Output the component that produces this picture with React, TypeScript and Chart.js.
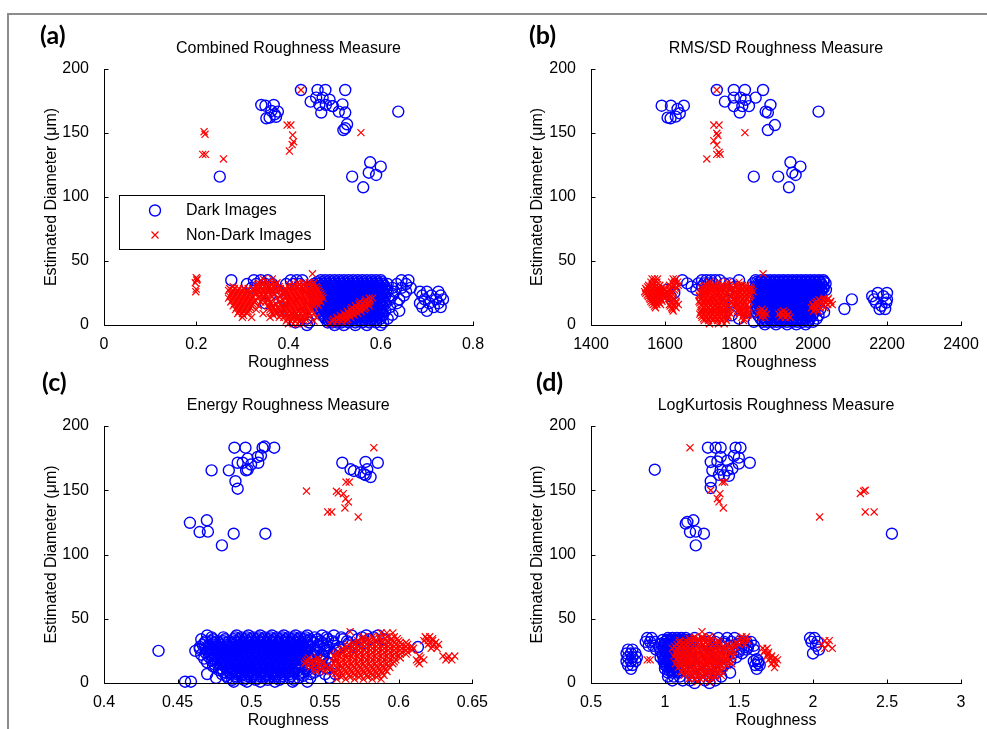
import React, { useEffect, useRef } from "react";
import { Chart, registerables } from "chart.js";

Chart.register(...registerables);

type Pt = [number, number];
type Row = [number, number[]]; // [diameter, roughness values at that diameter]

// ---------- tick values ----------
const diameterTicks = [0, 50, 100, 150, 200];
const combinedTicks = [0, 0.2, 0.4, 0.6, 0.8];
const rmsTicks = [1400, 1600, 1800, 2000, 2200, 2400];
const energyTicks = [0.4, 0.45, 0.5, 0.55, 0.6, 0.65];
const kurtosisTicks = [0.5, 1, 1.5, 2, 2.5, 3];

// ---------- (a) Combined roughness ----------
const combinedDarkHigh: Pt[] = [
  [0.427, 183.6], [0.463, 183.6], [0.48, 183.6], [0.523, 183.6], [0.448, 174.5], [0.46, 177.6],
  [0.474, 177.6], [0.489, 176], [0.467, 171.9], [0.481, 171.9], [0.496, 171], [0.471, 166],
  [0.517, 172.4], [0.509, 166.7], [0.523, 166], [0.527, 156.8], [0.523, 153.7], [0.519, 152.3],
  [0.495, 171], [0.638, 166.7],
  [0.341, 171.9], [0.35, 171.3], [0.368, 171.9], [0.377, 166.7], [0.37, 164.6], [0.359, 162],
  [0.352, 161.5], [0.373, 162.7], [0.363, 167.2],
  [0.251, 115.9],
  [0.577, 127.1], [0.6, 123.7], [0.574, 119], [0.59, 117.2], [0.538, 115.9], [0.562, 107.6],
];
const combinedNonDarkHigh: Pt[] = [
  [0.427, 183.6], [0.217, 151], [0.219, 149], [0.214, 133.3], [0.22, 133.3], [0.259, 129.7],
  [0.397, 156.2], [0.405, 156.2], [0.409, 148.4], [0.411, 143.2], [0.408, 141], [0.402, 135.9],
  [0.557, 150.3],
];
const combinedDarkLow: Row[] = [
  [35, [0.276, 0.325, 0.34, 0.355, 0.405, 0.418, 0.43, 0.47, 0.48, 0.49, 0.5, 0.51, 0.52, 0.53, 0.54, 0.55, 0.56, 0.57, 0.58, 0.59, 0.6, 0.645, 0.66]],
  [32, [0.31, 0.33, 0.35, 0.365, 0.395, 0.41, 0.425, 0.455, 0.465, 0.475, 0.485, 0.495, 0.505, 0.515, 0.525, 0.535, 0.545, 0.555, 0.565, 0.575, 0.585, 0.595, 0.605, 0.615, 0.635, 0.655]],
  [29, [0.32, 0.37, 0.44, 0.46, 0.47, 0.48, 0.49, 0.5, 0.51, 0.52, 0.53, 0.54, 0.55, 0.56, 0.57, 0.58, 0.59, 0.6, 0.61, 0.625, 0.645, 0.665]],
  [26, [0.38, 0.455, 0.465, 0.475, 0.485, 0.495, 0.505, 0.515, 0.525, 0.535, 0.545, 0.555, 0.565, 0.575, 0.585, 0.595, 0.605, 0.615, 0.63, 0.655, 0.685, 0.7, 0.725]],
  [23, [0.36, 0.46, 0.47, 0.48, 0.49, 0.5, 0.51, 0.52, 0.53, 0.54, 0.55, 0.56, 0.57, 0.58, 0.59, 0.6, 0.61, 0.625, 0.65, 0.69, 0.71, 0.73]],
  [20, [0.39, 0.465, 0.475, 0.485, 0.495, 0.505, 0.515, 0.525, 0.535, 0.545, 0.555, 0.565, 0.575, 0.585, 0.595, 0.605, 0.62, 0.64, 0.695, 0.72, 0.735]],
  [17, [0.35, 0.425, 0.46, 0.47, 0.48, 0.49, 0.5, 0.51, 0.52, 0.53, 0.54, 0.55, 0.56, 0.57, 0.58, 0.59, 0.6, 0.61, 0.635, 0.685, 0.705, 0.725]],
  [14, [0.38, 0.465, 0.475, 0.485, 0.495, 0.505, 0.515, 0.525, 0.535, 0.545, 0.555, 0.565, 0.575, 0.585, 0.595, 0.605, 0.62, 0.69, 0.715, 0.73]],
  [11, [0.4, 0.47, 0.48, 0.49, 0.5, 0.51, 0.52, 0.53, 0.54, 0.55, 0.56, 0.57, 0.58, 0.59, 0.6, 0.61, 0.64, 0.7]],
  [8, [0.43, 0.475, 0.485, 0.495, 0.505, 0.515, 0.525, 0.535, 0.545, 0.555, 0.565, 0.575, 0.585, 0.595, 0.605, 0.625]],
  [5, [0.44, 0.48, 0.49, 0.5, 0.51, 0.52, 0.53, 0.54, 0.55, 0.56, 0.57, 0.58, 0.59, 0.6, 0.615]],
  [2, [0.415, 0.445, 0.485, 0.495, 0.505, 0.515, 0.53, 0.545, 0.56, 0.575, 0.59, 0.605]],
  [0, [0.44, 0.5, 0.52, 0.545, 0.57, 0.6]],
];
const combinedDarkCore: Row[] = [
  [33.5, [0.4625, 0.4725, 0.4825, 0.4925, 0.5025, 0.5125, 0.5225, 0.5325, 0.5425, 0.5525, 0.5625, 0.5725, 0.5825, 0.5925, 0.6025]],
  [30.5, [0.4575, 0.4675, 0.4775, 0.4875, 0.4975, 0.5075, 0.5175, 0.5275, 0.5375, 0.5475, 0.5575, 0.5675, 0.5775, 0.5875, 0.5975, 0.6075]],
  [27.5, [0.4525, 0.4625, 0.4725, 0.4825, 0.4925, 0.5025, 0.5125, 0.5225, 0.5325, 0.5425, 0.5525, 0.5625, 0.5725, 0.5825, 0.5925, 0.6025, 0.6125]],
  [24.5, [0.4575, 0.4675, 0.4775, 0.4875, 0.4975, 0.5075, 0.5175, 0.5275, 0.5375, 0.5475, 0.5575, 0.5675, 0.5775, 0.5875, 0.5975, 0.6075]],
  [21.5, [0.4625, 0.4725, 0.4825, 0.4925, 0.5025, 0.5125, 0.5225, 0.5325, 0.5425, 0.5525, 0.5625, 0.5725, 0.5825, 0.5925, 0.6025]],
  [18.5, [0.4575, 0.4675, 0.4775, 0.4875, 0.4975, 0.5075, 0.5175, 0.5275, 0.5375, 0.5475, 0.5575, 0.5675, 0.5775, 0.5875, 0.5975, 0.6075]],
  [15.5, [0.4625, 0.4725, 0.4825, 0.4925, 0.5025, 0.5125, 0.5225, 0.5325, 0.5425, 0.5525, 0.5625, 0.5725, 0.5825, 0.5925, 0.6025]],
  [12.5, [0.4675, 0.4775, 0.4875, 0.4975, 0.5075, 0.5175, 0.5275, 0.5375, 0.5475, 0.5575, 0.5675, 0.5775, 0.5875, 0.5975]],
  [9.5, [0.4725, 0.4825, 0.4925, 0.5025, 0.5125, 0.5225, 0.5325, 0.5425, 0.5525, 0.5625, 0.5725, 0.5825, 0.5925, 0.6025]],
  [6.5, [0.4775, 0.4875, 0.4975, 0.5075, 0.5175, 0.5275, 0.5375, 0.5475, 0.5575, 0.5675, 0.5775, 0.5875, 0.5975]],
  [3.5, [0.4875, 0.4975, 0.5075, 0.5175, 0.5275, 0.5375, 0.5475, 0.5575, 0.5675, 0.5775, 0.5875]],
];
const combinedNonDarkLow: Row[] = [
  [40, [0.452]],
  [37, [0.2]], [35, [0.201]], [33, [0.198]], [26, [0.199]], [36, [0.202]], [28, [0.2]],
  [36, [0.345, 0.365]],
  [33, [0.335, 0.345, 0.355, 0.365, 0.375, 0.42, 0.435, 0.445, 0.455]],
  [30, [0.28, 0.33, 0.34, 0.35, 0.36, 0.37, 0.38, 0.4, 0.41, 0.42, 0.43, 0.44, 0.45, 0.46]],
  [27, [0.27, 0.28, 0.29, 0.3, 0.31, 0.325, 0.335, 0.345, 0.355, 0.365, 0.375, 0.385, 0.395, 0.405, 0.415, 0.425, 0.435, 0.445, 0.455, 0.465]],
  [24, [0.275, 0.285, 0.295, 0.305, 0.315, 0.33, 0.34, 0.35, 0.36, 0.37, 0.39, 0.4, 0.41, 0.42, 0.43, 0.44, 0.45, 0.46, 0.47]],
  [21, [0.27, 0.28, 0.29, 0.3, 0.31, 0.32, 0.335, 0.345, 0.355, 0.375, 0.395, 0.405, 0.415, 0.425, 0.435, 0.445, 0.455, 0.465, 0.475, 0.575, 0.582]],
  [18, [0.275, 0.285, 0.295, 0.305, 0.315, 0.325, 0.34, 0.35, 0.36, 0.38, 0.4, 0.41, 0.42, 0.43, 0.44, 0.45, 0.46, 0.47, 0.555, 0.565, 0.575]],
  [15, [0.28, 0.29, 0.3, 0.31, 0.32, 0.335, 0.355, 0.365, 0.385, 0.395, 0.405, 0.415, 0.425, 0.435, 0.445, 0.455, 0.465, 0.545, 0.555, 0.565, 0.575]],
  [12, [0.285, 0.295, 0.305, 0.315, 0.33, 0.36, 0.37, 0.38, 0.39, 0.4, 0.41, 0.42, 0.43, 0.44, 0.45, 0.535, 0.545, 0.555, 0.565]],
  [9, [0.29, 0.3, 0.31, 0.345, 0.365, 0.375, 0.385, 0.395, 0.405, 0.415, 0.425, 0.435, 0.445, 0.455, 0.52, 0.53, 0.54, 0.55]],
  [6, [0.3, 0.32, 0.36, 0.38, 0.39, 0.4, 0.41, 0.42, 0.43, 0.44, 0.46, 0.505, 0.515, 0.525, 0.535]],
  [3, [0.395, 0.405, 0.415, 0.425, 0.435, 0.455, 0.495, 0.505, 0.515, 0.525]],
  [1, [0.4, 0.41, 0.42, 0.43, 0.49, 0.5]],
];
const combinedNonDarkCore: Row[] = [
  [31.5, [0.3325, 0.3425, 0.3525, 0.3625, 0.3725, 0.4025, 0.4125, 0.4225, 0.4325, 0.4425, 0.4525]],
  [28.5, [0.2725, 0.2825, 0.2925, 0.3025, 0.3125, 0.3225, 0.3325, 0.3425, 0.3525, 0.3625, 0.3725, 0.3825, 0.3925, 0.4025, 0.4125, 0.4225, 0.4325, 0.4425, 0.4525, 0.4625]],
  [25.5, [0.2775, 0.2875, 0.2975, 0.3075, 0.3175, 0.3275, 0.3375, 0.3475, 0.3575, 0.3675, 0.3875, 0.3975, 0.4075, 0.4175, 0.4275, 0.4375, 0.4475, 0.4575, 0.4675]],
  [22.5, [0.2725, 0.2825, 0.2925, 0.3025, 0.3125, 0.3225, 0.3375, 0.3475, 0.3625, 0.3825, 0.3925, 0.4025, 0.4125, 0.4225, 0.4325, 0.4425, 0.4525, 0.4625, 0.4725]],
  [19.5, [0.2775, 0.2875, 0.2975, 0.3075, 0.3175, 0.3275, 0.3425, 0.3575, 0.3875, 0.3975, 0.4075, 0.4175, 0.4275, 0.4375, 0.4475, 0.4575, 0.4675, 0.5675, 0.5775]],
  [16.5, [0.2825, 0.2925, 0.3025, 0.3125, 0.3225, 0.3625, 0.3725, 0.3825, 0.3925, 0.4025, 0.4125, 0.4225, 0.4325, 0.4425, 0.4525, 0.4625, 0.5525, 0.5625, 0.5725]],
  [13.5, [0.2875, 0.2975, 0.3075, 0.3175, 0.3575, 0.3675, 0.3775, 0.3875, 0.3975, 0.4075, 0.4175, 0.4275, 0.4375, 0.4475, 0.5375, 0.5475, 0.5575, 0.5675]],
  [10.5, [0.2925, 0.3025, 0.3125, 0.3625, 0.3725, 0.3825, 0.3925, 0.4025, 0.4125, 0.4225, 0.4325, 0.4425, 0.5275, 0.5375, 0.5475, 0.5575]],
  [7.5, [0.3025, 0.3675, 0.3825, 0.3925, 0.4025, 0.4125, 0.4225, 0.4325, 0.4425, 0.5125, 0.5225, 0.5325, 0.5425]],
  [4.5, [0.3975, 0.4075, 0.4175, 0.4275, 0.4375, 0.4975, 0.5075, 0.5175, 0.5275]],
];

// ---------- (b) RMS/SD roughness ----------
const rmsDarkHigh: Pt[] = [
  [1740, 183.6], [1786, 183.6], [1816, 183.6], [1865, 183.6], [1762, 174.5], [1786, 177.6],
  [1804, 177.6], [1818, 176], [1786, 171], [1809, 171], [1827, 171], [1802, 166], [1845, 177.6],
  [1885, 171.9], [1872, 166.7], [1878, 166], [1897, 156.2], [1878, 152.3], [2015, 166.7],
  [1591, 171.3], [1616, 171.3], [1651, 171.3], [1640, 165.4], [1629, 162.8], [1615, 161.5],
  [1607, 162], [1634, 168.8],
  [1939, 127.1], [1966, 123.7], [1944, 119], [1953, 117.2], [1906, 115.9], [1935, 107.6], [1840, 115.9],
];
const rmsNonDarkHigh: Pt[] = [
  [1740, 183.6], [1732, 156.2], [1746, 156.2], [1740, 149.8], [1743, 148], [1732, 144],
  [1740, 140.6], [1746, 134.9], [1740, 133.3], [1749, 133.3], [1713, 129.7], [1816, 150.3],
];
const rmsDarkLow: Row[] = [
  [35, [1647, 1700, 1712, 1724, 1736, 1748, 1800, 1845, 1860, 1872, 1884, 1896, 1908, 1920, 1932, 1944, 1956, 1968, 1980, 1992, 2004, 2016, 2028]],
  [32.5, [1660, 1690, 1706, 1718, 1730, 1760, 1775, 1838, 1852, 1866, 1878, 1890, 1902, 1914, 1926, 1938, 1950, 1962, 1974, 1986, 1998, 2010, 2022, 2034]],
  [30, [1672, 1700, 1790, 1845, 1858, 1872, 1884, 1896, 1908, 1920, 1932, 1944, 1956, 1968, 1980, 1992, 2004, 2016, 2028]],
  [27.5, [1605, 1685, 1770, 1852, 1864, 1878, 1890, 1902, 1914, 1926, 1938, 1950, 1962, 1974, 1986, 1998, 2010, 2022, 2035]],
  [25, [1625, 1730, 1785, 1846, 1858, 1870, 1884, 1896, 1908, 1920, 1932, 1944, 1956, 1968, 1980, 1992, 2004, 2016, 2175, 2200]],
  [22.5, [1615, 1712, 1852, 1864, 1876, 1890, 1902, 1914, 1926, 1938, 1950, 1962, 1974, 1986, 1998, 2010, 2022, 2160, 2190]],
  [20, [1740, 1846, 1858, 1870, 1882, 1896, 1908, 1920, 1932, 1944, 1956, 1968, 1980, 1992, 2004, 2105, 2165, 2200]],
  [17.5, [1780, 1852, 1864, 1876, 1888, 1902, 1914, 1926, 1938, 1950, 1962, 1974, 1986, 1998, 2010, 2170, 2198]],
  [15, [1760, 1846, 1858, 1870, 1882, 1894, 1908, 1920, 1932, 1944, 1956, 1968, 1980, 1992, 2004, 2185]],
  [12.5, [1850, 1864, 1876, 1888, 1900, 1914, 1926, 1938, 1950, 1962, 1974, 1986, 1998, 2020, 2085, 2180, 2195]],
  [10, [1820, 1846, 1858, 1870, 1882, 1894, 1906, 1920, 1932, 1944, 1956, 1968, 1980, 1992, 2004, 2030]],
  [7.5, [1780, 1852, 1864, 1876, 1888, 1900, 1912, 1926, 1938, 1950, 1962, 1974, 1986, 1998, 2015]],
  [5, [1800, 1858, 1870, 1882, 1894, 1906, 1918, 1932, 1944, 1956, 1968, 1980, 1992, 2010]],
  [2.5, [1840, 1864, 1876, 1890, 1902, 1916, 1930, 1944, 1958, 1972, 1986, 2000]],
  [0.5, [1870, 1900, 1930, 1955, 1980]],
];
const rmsDarkCore: Row[] = [
  [33.8, [1849, 1861, 1873, 1885, 1897, 1909, 1921, 1933, 1945, 1957, 1969, 1981, 1993, 2005, 2017, 2029]],
  [31.3, [1855, 1867, 1879, 1891, 1903, 1915, 1927, 1939, 1951, 1963, 1975, 1987, 1999, 2011, 2023]],
  [28.8, [1849, 1861, 1873, 1885, 1897, 1909, 1921, 1933, 1945, 1957, 1969, 1981, 1993, 2005, 2017, 2029]],
  [26.3, [1855, 1867, 1879, 1891, 1903, 1915, 1927, 1939, 1951, 1963, 1975, 1987, 1999, 2011, 2023]],
  [23.8, [1849, 1861, 1873, 1885, 1897, 1909, 1921, 1933, 1945, 1957, 1969, 1981, 1993, 2005, 2017]],
  [21.3, [1855, 1867, 1879, 1891, 1903, 1915, 1927, 1939, 1951, 1963, 1975, 1987, 1999, 2011]],
  [18.8, [1849, 1861, 1873, 1885, 1897, 1909, 1921, 1933, 1945, 1957, 1969, 1981, 1993, 2005]],
  [16.3, [1855, 1867, 1879, 1891, 1903, 1915, 1927, 1939, 1951, 1963, 1975, 1987, 1999, 2011]],
  [13.8, [1849, 1861, 1873, 1885, 1897, 1909, 1921, 1933, 1945, 1957, 1969, 1981, 1993, 2005]],
  [11.3, [1855, 1867, 1879, 1891, 1903, 1915, 1927, 1939, 1951, 1963, 1975, 1987, 1999]],
  [8.8, [1861, 1873, 1885, 1897, 1909, 1921, 1933, 1945, 1957, 1969, 1981, 1993]],
  [6.3, [1867, 1879, 1891, 1903, 1915, 1927, 1939, 1951, 1963, 1975, 1987]],
  [3.8, [1873, 1885, 1897, 1909, 1921, 1933, 1945, 1957, 1969]],
];
const rmsNonDarkLow: Row[] = [
  [40, [1865]],
  [36, [1565, 1572, 1580, 1622, 1630]],
  [33.5, [1562, 1570, 1578, 1618, 1626, 1634, 1720, 1745, 1770, 1800]],
  [31, [1556, 1566, 1576, 1586, 1612, 1624, 1636, 1708, 1720, 1732, 1744, 1756, 1768, 1790, 1800, 1810, 1820]],
  [28.5, [1548, 1558, 1568, 1578, 1588, 1598, 1614, 1630, 1700, 1712, 1724, 1736, 1748, 1760, 1772, 1784, 1796, 1808, 1820, 1832]],
  [26, [1545, 1555, 1565, 1575, 1585, 1595, 1605, 1620, 1698, 1708, 1718, 1730, 1742, 1754, 1766, 1790, 1802, 1814, 1826, 1838]],
  [23.5, [1552, 1562, 1572, 1582, 1592, 1602, 1612, 1692, 1704, 1716, 1728, 1740, 1752, 1764, 1778, 1796, 1808, 1820, 1832]],
  [21, [1558, 1568, 1578, 1588, 1598, 1610, 1622, 1698, 1710, 1722, 1734, 1746, 1758, 1770, 1786, 1798, 1810, 1822, 2030, 2042]],
  [18.5, [1562, 1572, 1582, 1592, 1616, 1630, 1692, 1704, 1716, 1728, 1740, 1752, 1764, 1780, 1792, 1804, 1816, 1828, 2010, 2022, 2034, 2048]],
  [16, [1568, 1578, 1588, 1612, 1624, 1636, 1698, 1710, 1722, 1734, 1746, 1758, 1770, 1786, 1798, 1810, 1822, 2000, 2014, 2026, 2040, 2052]],
  [13.5, [1574, 1618, 1630, 1704, 1716, 1728, 1740, 1752, 1764, 1776, 1790, 1802, 1814, 1826, 1996, 2008, 2020, 2032]],
  [11, [1622, 1698, 1710, 1722, 1734, 1746, 1758, 1770, 1796, 1808, 1820, 1858, 1868, 1920, 2002, 2014]],
  [8.5, [1694, 1706, 1718, 1730, 1742, 1754, 1766, 1778, 1802, 1814, 1826, 1852, 1864, 1874, 1908, 1920, 1932]],
  [6, [1700, 1712, 1724, 1736, 1748, 1760, 1772, 1808, 1820, 1860, 1870, 1912, 1926, 1938]],
  [3.5, [1706, 1718, 1730, 1742, 1754, 1766, 1812]],
  [1, [1720, 1745, 1760]],
];
const rmsNonDarkCore: Row[] = [
  [29.8, [1553, 1563, 1573, 1583, 1593, 1618, 1632, 1704, 1716, 1728, 1740, 1752, 1764, 1776, 1794, 1806, 1818, 1830]],
  [27.3, [1550, 1560, 1570, 1580, 1590, 1600, 1612, 1626, 1702, 1714, 1726, 1738, 1750, 1762, 1774, 1786, 1798, 1810, 1822, 1834]],
  [24.8, [1548, 1558, 1568, 1578, 1588, 1598, 1608, 1618, 1696, 1708, 1720, 1732, 1744, 1756, 1768, 1792, 1804, 1816, 1828]],
  [22.3, [1555, 1565, 1575, 1585, 1595, 1605, 1616, 1694, 1706, 1718, 1730, 1742, 1754, 1766, 1780, 1792, 1804, 1816, 1828]],
  [19.8, [1560, 1570, 1580, 1590, 1612, 1626, 1696, 1708, 1720, 1732, 1744, 1756, 1768, 1784, 1796, 1808, 1820, 2016, 2028, 2040]],
  [17.3, [1565, 1575, 1585, 1618, 1630, 1694, 1706, 1718, 1730, 1742, 1754, 1766, 1780, 1792, 1804, 1816, 2006, 2020, 2034, 2046]],
  [14.8, [1572, 1614, 1626, 1700, 1712, 1724, 1736, 1748, 1760, 1772, 1794, 1806, 1818, 2000, 2012, 2026]],
  [12.3, [1620, 1700, 1712, 1724, 1736, 1748, 1760, 1772, 1798, 1810, 1822, 1862, 2006]],
  [9.8, [1696, 1708, 1720, 1732, 1744, 1756, 1768, 1800, 1812, 1824, 1856, 1868, 1914, 1926]],
  [7.3, [1698, 1710, 1722, 1734, 1746, 1758, 1770, 1812, 1824, 1864, 1918, 1932]],
  [4.8, [1704, 1716, 1728, 1740, 1752, 1764, 1814]],
];

// ---------- (c) Energy roughness ----------
const energyDarkHigh: Pt[] = [
  [0.4885, 183.1], [0.496, 183.1], [0.5076, 183.1], [0.509, 184], [0.5155, 183.1], [0.473, 165.5],
  [0.4847, 165.5], [0.4907, 171.4], [0.4941, 171.4], [0.4975, 174.6], [0.4998, 170], [0.5043, 175.9],
  [0.5065, 177], [0.5047, 171.4], [0.4964, 165.5], [0.4975, 166], [0.4892, 157], [0.4907, 151.2],
  [0.4583, 124.7], [0.4698, 126.6], [0.4649, 117.5], [0.4705, 117.8], [0.488, 116.2], [0.5095, 116.2],
  [0.48, 107.1],
  [0.5617, 171.4], [0.5673, 166.3], [0.5696, 165], [0.5741, 163.8], [0.5775, 172], [0.5858, 171.4],
  [0.5786, 166.3], [0.5775, 161.8], [0.5809, 160.3], [0.5764, 162.5],
];
const energyNonDarkHigh: Pt[] = [
  [0.5831, 183.1], [0.5374, 149.4], [0.5642, 156.4], [0.5665, 156.4], [0.5577, 149.2], [0.559, 148],
  [0.5624, 147.3], [0.564, 143.4], [0.5658, 140.9], [0.5635, 136.2], [0.5518, 133.1], [0.5545, 133.1],
  [0.5725, 129.2],
];
const energyDarkLow: Row[] = [
  [37, [0.47, 0.49, 0.498, 0.506, 0.514, 0.522, 0.53, 0.538, 0.548, 0.556, 0.568, 0.578, 0.586]],
  [34, [0.466, 0.474, 0.482, 0.488, 0.492, 0.496, 0.5, 0.504, 0.508, 0.512, 0.516, 0.52, 0.524, 0.528, 0.532, 0.536, 0.54, 0.545, 0.552, 0.562, 0.572, 0.58, 0.59]],
  [31, [0.468, 0.474, 0.478, 0.482, 0.486, 0.49, 0.494, 0.498, 0.502, 0.506, 0.51, 0.514, 0.518, 0.522, 0.526, 0.53, 0.534, 0.538, 0.542, 0.548, 0.556, 0.566, 0.576]],
  [28, [0.465, 0.472, 0.476, 0.48, 0.484, 0.488, 0.492, 0.496, 0.5, 0.504, 0.508, 0.512, 0.516, 0.52, 0.524, 0.528, 0.532, 0.536, 0.54, 0.546, 0.552, 0.56, 0.57, 0.613]],
  [25, [0.437, 0.462, 0.47, 0.474, 0.478, 0.482, 0.486, 0.49, 0.494, 0.498, 0.502, 0.506, 0.51, 0.514, 0.518, 0.522, 0.526, 0.53, 0.534, 0.538, 0.544, 0.55, 0.558, 0.566]],
  [22, [0.466, 0.472, 0.476, 0.48, 0.484, 0.488, 0.492, 0.496, 0.5, 0.504, 0.508, 0.512, 0.516, 0.52, 0.524, 0.528, 0.532, 0.536, 0.542, 0.548, 0.556]],
  [19, [0.468, 0.474, 0.478, 0.482, 0.486, 0.49, 0.494, 0.498, 0.502, 0.506, 0.51, 0.514, 0.518, 0.522, 0.526, 0.53, 0.534, 0.54, 0.548]],
  [16, [0.47, 0.476, 0.48, 0.484, 0.488, 0.492, 0.496, 0.5, 0.504, 0.508, 0.512, 0.516, 0.52, 0.524, 0.528, 0.532, 0.536, 0.544, 0.552]],
  [13, [0.474, 0.482, 0.486, 0.49, 0.494, 0.498, 0.502, 0.506, 0.51, 0.514, 0.518, 0.522, 0.526, 0.53, 0.534, 0.54, 0.548, 0.556]],
  [10, [0.478, 0.484, 0.488, 0.492, 0.496, 0.5, 0.504, 0.508, 0.512, 0.516, 0.52, 0.524, 0.528, 0.532, 0.538, 0.546]],
  [7, [0.47, 0.48, 0.486, 0.49, 0.494, 0.498, 0.502, 0.506, 0.51, 0.514, 0.518, 0.522, 0.526, 0.532, 0.54, 0.55, 0.557]],
  [4, [0.476, 0.484, 0.49, 0.496, 0.5, 0.504, 0.508, 0.512, 0.516, 0.52, 0.526, 0.532, 0.54, 0.553]],
  [1, [0.455, 0.459, 0.488, 0.497, 0.506, 0.516, 0.528, 0.538]],
];
const energyDarkCore: Row[] = [
  [35.5, [0.473, 0.481, 0.489, 0.493, 0.497, 0.501, 0.505, 0.509, 0.513, 0.517, 0.521, 0.525, 0.529, 0.533, 0.537, 0.543, 0.551, 0.561, 0.575, 0.583]],
  [32.5, [0.469, 0.473, 0.477, 0.481, 0.485, 0.489, 0.493, 0.497, 0.501, 0.505, 0.509, 0.513, 0.517, 0.521, 0.525, 0.529, 0.533, 0.537, 0.541, 0.547, 0.555, 0.565]],
  [29.5, [0.467, 0.471, 0.475, 0.479, 0.483, 0.487, 0.491, 0.495, 0.499, 0.503, 0.507, 0.511, 0.515, 0.519, 0.523, 0.527, 0.531, 0.535, 0.539, 0.545, 0.551]],
  [26.5, [0.465, 0.469, 0.473, 0.477, 0.481, 0.485, 0.489, 0.493, 0.497, 0.501, 0.505, 0.509, 0.513, 0.517, 0.521, 0.525, 0.529, 0.533, 0.537, 0.543, 0.549, 0.557]],
  [23.5, [0.469, 0.473, 0.477, 0.481, 0.485, 0.489, 0.493, 0.497, 0.501, 0.505, 0.509, 0.513, 0.517, 0.521, 0.525, 0.529, 0.533, 0.537, 0.545, 0.553]],
  [20.5, [0.471, 0.475, 0.479, 0.483, 0.487, 0.491, 0.495, 0.499, 0.503, 0.507, 0.511, 0.515, 0.519, 0.523, 0.527, 0.531, 0.535, 0.541, 0.549]],
  [17.5, [0.473, 0.477, 0.481, 0.485, 0.489, 0.493, 0.497, 0.501, 0.505, 0.509, 0.513, 0.517, 0.521, 0.525, 0.529, 0.533, 0.539, 0.547]],
  [14.5, [0.475, 0.479, 0.483, 0.487, 0.491, 0.495, 0.499, 0.503, 0.507, 0.511, 0.515, 0.519, 0.523, 0.527, 0.531, 0.537, 0.545]],
  [11.5, [0.479, 0.483, 0.487, 0.491, 0.495, 0.499, 0.503, 0.507, 0.511, 0.515, 0.519, 0.523, 0.527, 0.531, 0.537, 0.551]],
  [8.5, [0.481, 0.485, 0.489, 0.493, 0.497, 0.501, 0.505, 0.509, 0.513, 0.517, 0.521, 0.525, 0.529, 0.535, 0.543]],
  [5.5, [0.483, 0.489, 0.493, 0.497, 0.501, 0.505, 0.509, 0.513, 0.517, 0.521, 0.527, 0.535]],
  [2.5, [0.487, 0.495, 0.503, 0.511, 0.519, 0.529]],
];
const energyNonDarkLow: Row[] = [
  [40, [0.567]],
  [39, [0.588, 0.592, 0.596]],
  [36, [0.576, 0.582, 0.587, 0.592, 0.597, 0.618, 0.621]],
  [33, [0.572, 0.576, 0.58, 0.584, 0.588, 0.592, 0.596, 0.6, 0.617, 0.62, 0.623]],
  [30, [0.566, 0.57, 0.574, 0.578, 0.582, 0.586, 0.59, 0.594, 0.598, 0.602, 0.606, 0.62, 0.624, 0.627]],
  [27, [0.562, 0.566, 0.57, 0.574, 0.578, 0.582, 0.586, 0.59, 0.594, 0.598, 0.602, 0.606, 0.61, 0.622, 0.626]],
  [24, [0.558, 0.562, 0.566, 0.57, 0.574, 0.578, 0.582, 0.586, 0.59, 0.594, 0.598, 0.602, 0.606]],
  [21, [0.556, 0.56, 0.564, 0.568, 0.572, 0.576, 0.58, 0.584, 0.588, 0.592, 0.596, 0.6, 0.614, 0.63, 0.634, 0.638]],
  [18, [0.538, 0.542, 0.546, 0.558, 0.562, 0.566, 0.57, 0.574, 0.578, 0.582, 0.586, 0.59, 0.594, 0.598, 0.612, 0.617, 0.632, 0.636]],
  [15, [0.536, 0.54, 0.544, 0.548, 0.556, 0.56, 0.564, 0.568, 0.572, 0.576, 0.58, 0.584, 0.588, 0.592, 0.596, 0.614]],
  [12, [0.54, 0.544, 0.548, 0.552, 0.558, 0.562, 0.566, 0.57, 0.574, 0.578, 0.582, 0.586, 0.59, 0.594]],
  [9, [0.544, 0.55, 0.556, 0.56, 0.564, 0.568, 0.572, 0.576, 0.58, 0.584, 0.588, 0.592]],
  [6, [0.558, 0.562, 0.566, 0.57, 0.574, 0.578, 0.582, 0.586, 0.59]],
  [3, [0.558, 0.564, 0.57, 0.576, 0.582, 0.588]],
];
const energyNonDarkCore: Row[] = [
  [34.5, [0.575, 0.579, 0.583, 0.587, 0.591, 0.595, 0.599, 0.619, 0.623]],
  [31.5, [0.569, 0.573, 0.577, 0.581, 0.585, 0.589, 0.593, 0.597, 0.601, 0.605, 0.621, 0.625]],
  [28.5, [0.565, 0.569, 0.573, 0.577, 0.581, 0.585, 0.589, 0.593, 0.597, 0.601, 0.605, 0.609, 0.623]],
  [25.5, [0.561, 0.565, 0.569, 0.573, 0.577, 0.581, 0.585, 0.589, 0.593, 0.597, 0.601, 0.605, 0.609]],
  [22.5, [0.557, 0.561, 0.565, 0.569, 0.573, 0.577, 0.581, 0.585, 0.589, 0.593, 0.597, 0.601, 0.605]],
  [19.5, [0.539, 0.545, 0.557, 0.561, 0.565, 0.569, 0.573, 0.577, 0.581, 0.585, 0.589, 0.593, 0.597, 0.601, 0.615, 0.633]],
  [16.5, [0.537, 0.541, 0.545, 0.549, 0.557, 0.561, 0.565, 0.569, 0.573, 0.577, 0.581, 0.585, 0.589, 0.593, 0.597, 0.613]],
  [13.5, [0.539, 0.543, 0.547, 0.551, 0.557, 0.561, 0.565, 0.569, 0.573, 0.577, 0.581, 0.585, 0.589, 0.593]],
  [10.5, [0.543, 0.547, 0.553, 0.559, 0.563, 0.567, 0.571, 0.575, 0.579, 0.583, 0.587, 0.591]],
  [7.5, [0.557, 0.561, 0.565, 0.569, 0.573, 0.577, 0.581, 0.585, 0.589]],
  [4.5, [0.561, 0.567, 0.573, 0.579, 0.585]],
];

// ---------- (d) LogKurtosis roughness ----------
const kurtosisDarkHigh: Pt[] = [
  [0.931, 166], [1.29, 183.1], [1.342, 183.1], [1.376, 183.1], [1.477, 183.1], [1.51, 183.1],
  [1.376, 175.9], [1.309, 172], [1.354, 172.4], [1.421, 173], [1.466, 176.7], [1.499, 175.4],
  [1.573, 171.4], [1.32, 165.5], [1.376, 166], [1.421, 165.5], [1.455, 166.8], [1.398, 161.6],
  [1.432, 161.2], [1.365, 162], [1.309, 157], [1.309, 151.8], [1.499, 170.7],
  [1.151, 125.3], [1.192, 126.6], [1.169, 117.5], [1.208, 117.8], [1.263, 116.2], [1.208, 107.1],
  [1.14, 124],
  [2.533, 116.2],
];
const kurtosisNonDarkHigh: Pt[] = [
  [1.169, 183.1], [1.387, 156.4], [1.403, 156.4], [1.309, 150], [1.371, 147.3], [1.354, 143.4],
  [1.365, 141], [1.394, 136.2], [2.342, 149.2], [2.353, 150], [2.32, 147.5], [2.353, 133.1],
  [2.413, 133.1], [2.045, 129.2],
];
const kurtosisDarkLow: Row[] = [
  [35, [0.88, 0.91, 1.02, 1.05, 1.08, 1.11, 1.14, 1.2, 1.3, 1.36, 1.42, 1.47, 1.98, 2.01]],
  [32, [0.87, 0.9, 0.93, 1.0, 1.03, 1.06, 1.09, 1.12, 1.15, 1.18, 1.28, 1.34, 1.4, 1.45, 1.5, 1.55, 1.58, 1.99, 2.03]],
  [29, [0.89, 0.92, 0.99, 1.015, 1.045, 1.075, 1.105, 1.135, 1.165, 1.3, 1.38, 1.44, 1.52, 1.56, 1.6, 2.02]],
  [26, [0.75, 0.78, 0.94, 1.0, 1.03, 1.06, 1.09, 1.12, 1.15, 1.2, 1.32, 1.42, 1.5, 1.55, 1.6, 2.04]],
  [23, [0.74, 0.77, 0.8, 0.985, 1.015, 1.045, 1.075, 1.105, 1.135, 1.17, 1.28, 1.36, 1.46, 1.52, 2.0]],
  [20, [0.75, 0.78, 0.81, 0.97, 1.0, 1.03, 1.06, 1.09, 1.12, 1.22, 1.3, 1.4, 1.48]],
  [17, [0.74, 0.77, 0.8, 0.99, 1.02, 1.05, 1.08, 1.11, 1.18, 1.26, 1.34, 1.44, 1.6, 1.63]],
  [14, [0.75, 0.78, 1.0, 1.03, 1.06, 1.09, 1.14, 1.22, 1.32, 1.4, 1.61, 1.64]],
  [11, [0.77, 1.0, 1.04, 1.07, 1.12, 1.2, 1.3, 1.38, 1.62]],
  [8, [1.02, 1.05, 1.09, 1.16, 1.25, 1.35, 1.44]],
  [5, [1.02, 1.06, 1.1, 1.2, 1.3, 1.38]],
  [2, [1.05, 1.12, 1.17, 1.27, 1.34]],
  [0, [1.2, 1.3]],
];
const kurtosisDarkCore: Row[] = [
  [33.5, [0.985, 1.015, 1.045, 1.075, 1.105, 1.135, 1.165]],
  [30.5, [0.975, 1.005, 1.035, 1.065, 1.095, 1.125, 1.155, 1.4, 1.5]],
  [27.5, [0.965, 0.995, 1.025, 1.055, 1.085, 1.115, 1.145, 1.56]],
  [24.5, [0.97, 1.0, 1.03, 1.06, 1.09, 1.12, 1.15, 1.5]],
  [21.5, [0.985, 1.015, 1.045, 1.075, 1.105]],
  [18.5, [0.995, 1.025, 1.055, 1.085, 1.62]],
  [15.5, [1.005, 1.035, 1.065, 1.095, 1.63]],
  [12.5, [1.015, 1.045, 1.075]],
  [9.5, [1.03, 1.06, 1.09]],
];
const kurtosisNonDarkLow: Row[] = [
  [40, [1.25]],
  [36, [1.2, 1.25, 1.3, 1.52, 1.55]],
  [33, [1.1, 1.14, 1.17, 1.2, 1.23, 1.26, 1.29, 1.32, 1.36, 1.5, 1.53, 1.56, 2.08, 2.11]],
  [30, [1.08, 1.11, 1.14, 1.17, 1.2, 1.23, 1.26, 1.29, 1.32, 1.35, 1.42, 1.46, 1.5, 1.54, 2.06, 2.1]],
  [27, [1.05, 1.08, 1.11, 1.14, 1.17, 1.2, 1.23, 1.26, 1.29, 1.32, 1.35, 1.38, 1.41, 1.45, 1.66, 1.69, 2.08, 2.13]],
  [24, [1.07, 1.1, 1.13, 1.16, 1.19, 1.22, 1.25, 1.28, 1.31, 1.34, 1.37, 1.4, 1.44, 1.47, 1.67, 1.7]],
  [21, [1.06, 1.09, 1.12, 1.15, 1.18, 1.21, 1.24, 1.27, 1.3, 1.33, 1.36, 1.39, 1.42, 1.46, 1.69, 1.72]],
  [18, [0.88, 0.9, 1.08, 1.11, 1.14, 1.17, 1.2, 1.23, 1.26, 1.29, 1.32, 1.35, 1.38, 1.41, 1.44, 1.7, 1.73, 1.76]],
  [15, [1.07, 1.1, 1.13, 1.16, 1.19, 1.22, 1.25, 1.28, 1.31, 1.34, 1.37, 1.4, 1.45, 1.72, 1.75]],
  [12, [1.09, 1.12, 1.15, 1.18, 1.21, 1.24, 1.27, 1.3, 1.33, 1.36, 1.4, 1.74]],
  [9, [1.11, 1.14, 1.17, 1.2, 1.23, 1.26, 1.29, 1.32, 1.35, 1.38]],
  [6, [1.13, 1.16, 1.19, 1.22, 1.25, 1.28, 1.31, 1.34, 1.38]],
  [3, [1.16, 1.2, 1.24, 1.28, 1.32]],
  [1, [1.22, 1.3]],
];
const kurtosisNonDarkCore: Row[] = [
  [34.5, [1.165, 1.195, 1.225, 1.255, 1.285, 1.315, 1.51, 1.54]],
  [31.5, [1.095, 1.125, 1.155, 1.185, 1.215, 1.245, 1.275, 1.305, 1.335, 1.365, 1.48, 1.52]],
  [28.5, [1.065, 1.095, 1.125, 1.155, 1.185, 1.215, 1.245, 1.275, 1.305, 1.335, 1.365, 1.395, 1.435, 1.475]],
  [25.5, [1.085, 1.115, 1.145, 1.175, 1.205, 1.235, 1.265, 1.295, 1.325, 1.355, 1.385, 1.415, 1.455, 1.675]],
  [22.5, [1.075, 1.105, 1.135, 1.165, 1.195, 1.225, 1.255, 1.285, 1.315, 1.345, 1.375, 1.405, 1.44, 1.695]],
  [19.5, [1.085, 1.115, 1.145, 1.175, 1.205, 1.235, 1.265, 1.295, 1.325, 1.355, 1.385, 1.415, 1.715, 1.745]],
  [16.5, [1.095, 1.125, 1.155, 1.185, 1.215, 1.245, 1.275, 1.305, 1.335, 1.365, 1.395, 1.43, 1.735]],
  [13.5, [1.105, 1.135, 1.165, 1.195, 1.225, 1.255, 1.285, 1.315, 1.345, 1.375, 1.42]],
  [10.5, [1.125, 1.155, 1.185, 1.215, 1.245, 1.275, 1.305, 1.335, 1.365]],
  [7.5, [1.145, 1.175, 1.205, 1.235, 1.265, 1.295, 1.325, 1.355]],
  [4.5, [1.18, 1.22, 1.26, 1.3, 1.34]],
];

// ---------- drawing ----------
const FONT = "'Liberation Sans', Arial, Helvetica, sans-serif";
const DARK = "#0000ff";
const NONDARK = "#ff0000";

type Box = { left: number; top: number; width: number; height: number };
type Area = { left: number; top: number; right: number; bottom: number };

type PanelSpec = {
  id: string;
  tag: string;
  tagPos: [number, number];
  title: string;
  xMin: number;
  xMax: number;
  xTicks: number[];
  dark: Pt[];
  nonDark: Pt[];
  legend: boolean;
  box: Box;
  area: Area;
  yTitleX: number;
};

const fromRows = (rows: Row[]): Pt[] => rows.flatMap(([y, xs]) => xs.map((x) => [x, y] as Pt));
const fmt = (v: number) => String(+Number(v).toFixed(4));

const panels: PanelSpec[] = [
  {
    id: "a", tag: "(a)", tagPos: [40, 36], title: "Combined Roughness Measure",
    xMin: 0, xMax: 0.8, xTicks: combinedTicks,
    dark: [...combinedDarkHigh, ...fromRows(combinedDarkLow), ...fromRows(combinedDarkCore)],
    nonDark: [...combinedNonDarkHigh, ...fromRows(combinedNonDarkLow), ...fromRows(combinedNonDarkCore)],
    legend: true,
    box: { left: 0, top: 0, width: 490, height: 372 },
    area: { left: 104, top: 69, right: 473, bottom: 325 },
    yTitleX: 52,
  },
  {
    id: "b", tag: "(b)", tagPos: [39, 36], title: "RMS/SD Roughness Measure",
    xMin: 1400, xMax: 2400, xTicks: rmsTicks,
    dark: [...rmsDarkHigh, ...fromRows(rmsDarkLow), ...fromRows(rmsDarkCore)],
    nonDark: [...rmsNonDarkHigh, ...fromRows(rmsNonDarkLow), ...fromRows(rmsNonDarkCore)],
    legend: false,
    box: { left: 490, top: 0, width: 497, height: 372 },
    area: { left: 101, top: 69, right: 471, bottom: 325 },
    yTitleX: 48,
  },
  {
    id: "c", tag: "(c)", tagPos: [42, 18], title: "Energy Roughness Measure",
    xMin: 0.4, xMax: 0.65, xTicks: energyTicks,
    dark: [...fromRows(energyDarkLow), ...fromRows(energyDarkCore), ...energyDarkHigh],
    nonDark: [...fromRows(energyNonDarkLow), ...fromRows(energyNonDarkCore), ...energyNonDarkHigh],
    legend: false,
    box: { left: 0, top: 365, width: 490, height: 364 },
    area: { left: 104, top: 61, right: 473, bottom: 318 },
    yTitleX: 52,
  },
  {
    id: "d", tag: "(d)", tagPos: [46, 18], title: "LogKurtosis Roughness Measure",
    xMin: 0.5, xMax: 3, xTicks: kurtosisTicks,
    dark: [...fromRows(kurtosisDarkLow), ...fromRows(kurtosisDarkCore), ...kurtosisDarkHigh],
    nonDark: [...fromRows(kurtosisNonDarkLow), ...fromRows(kurtosisNonDarkCore), ...kurtosisNonDarkHigh],
    legend: false,
    box: { left: 490, top: 365, width: 497, height: 364 },
    area: { left: 101, top: 61, right: 471, bottom: 318 },
    yTitleX: 48,
  },
];

function drawCross(ctx: CanvasRenderingContext2D, x: number, y: number, h: number) {
  ctx.moveTo(x - h, y - h);
  ctx.lineTo(x + h, y + h);
  ctx.moveTo(x - h, y + h);
  ctx.lineTo(x + h, y - h);
}

const axesDecor = {
  id: "axesDecor",
  afterDatasetsDraw(chart: any, _args: any, opts: any) {
    const ctx: CanvasRenderingContext2D = chart.ctx;
    const { left, right, top, bottom } = chart.chartArea;
    const xs = chart.scales.x;
    const ys = chart.scales.y;
    ctx.save();
    // axis lines with inward ticks
    ctx.strokeStyle = "#000";
    ctx.lineWidth = 1;
    const L = Math.round(left) + 0.5;
    const B = Math.round(bottom) + 0.5;
    ctx.beginPath();
    ctx.moveTo(L, Math.round(top));
    ctx.lineTo(L, B);
    ctx.lineTo(Math.round(right) + 1, B);
    xs.ticks.forEach((t: any) => {
      const px = Math.round(xs.getPixelForValue(t.value)) + 0.5;
      ctx.moveTo(px, B);
      ctx.lineTo(px, B - 4);
    });
    ys.ticks.forEach((t: any) => {
      const py = Math.round(ys.getPixelForValue(t.value)) + 0.5;
      ctx.moveTo(L, py);
      ctx.lineTo(L + 4, py);
    });
    ctx.stroke();

    const cx = (left + right) / 2;
    ctx.fillStyle = "#000";
    ctx.textBaseline = "middle";
    ctx.textAlign = "center";
    ctx.font = `16px ${FONT}`;
    ctx.fillText(opts.title, cx, top - 20);
    ctx.fillText("Roughness", cx, bottom + 38);

    ctx.save();
    ctx.translate(opts.yTitleX, (top + bottom) / 2);
    ctx.rotate(-Math.PI / 2);
    ctx.fillText("Estimated Diameter (\u03bcm)", 0, 0);
    ctx.restore();

    ctx.textAlign = "left";
    ctx.font = `bold 25px Lato, 'Open Sans', sans-serif`;
    ctx.fillText(opts.tag, opts.tagPos[0], opts.tagPos[1]);

    if (opts.legend) {
      ctx.fillStyle = "#fff";
      ctx.fillRect(119.5, 195.5, 205, 54);
      ctx.strokeStyle = "#000";
      ctx.lineWidth = 1;
      ctx.strokeRect(119.5, 195.5, 205, 54);
      ctx.strokeStyle = DARK;
      ctx.lineWidth = 1.4;
      ctx.beginPath();
      ctx.arc(155, 210.5, 5.5, 0, Math.PI * 2);
      ctx.stroke();
      ctx.strokeStyle = NONDARK;
      ctx.lineWidth = 1.2;
      ctx.beginPath();
      drawCross(ctx, 155, 235, 3.5);
      ctx.stroke();
      ctx.fillStyle = "#000";
      ctx.font = `16px ${FONT}`;
      ctx.fillText("Dark Images", 186, 211);
      ctx.fillText("Non-Dark Images", 186, 236);
    }
    ctx.restore();
  },
};

function ScatterPanel({ panel }: { panel: PanelSpec }) {
  const ref = useRef<HTMLCanvasElement>(null);

  useEffect(() => {
    const { box, area } = panel;
    const tickFont = { family: FONT, size: 16 };
    const chart = new Chart(ref.current as HTMLCanvasElement, {
      type: "scatter",
      data: {
        datasets: [
          {
            label: "Dark Images",
            data: panel.dark.map(([x, y]) => ({ x, y })),
            pointStyle: "circle",
            pointRadius: 5.5,
            borderWidth: 1.4,
            borderColor: DARK,
            backgroundColor: "rgba(0,0,0,0)",
            order: 1,
            clip: false,
          },
          {
            label: "Non-Dark Images",
            data: panel.nonDark.map(([x, y]) => ({ x, y })),
            pointStyle: "crossRot",
            pointRadius: 5,
            borderWidth: 1.2,
            borderColor: NONDARK,
            backgroundColor: NONDARK,
            order: 0,
            clip: false,
          },
        ],
      },
      options: {
        animation: false,
        responsive: false,
        events: [],
        layout: {
          padding: { left: 0, top: area.top, right: box.width - area.right, bottom: 0 },
        },
        plugins: {
          legend: { display: false },
          tooltip: { enabled: false },
          axesDecor: {
            title: panel.title,
            tag: panel.tag,
            tagPos: panel.tagPos,
            legend: panel.legend,
            yTitleX: panel.yTitleX,
          },
        } as any,
        scales: {
          x: {
            type: "linear",
            min: panel.xMin,
            max: panel.xMax,
            afterBuildTicks: (s: any) => {
              s.ticks = panel.xTicks.map((v) => ({ value: v }));
            },
            afterFit: (s: any) => {
              s.height = box.height - area.bottom;
            },
            grid: { display: false },
            border: { display: false },
            ticks: {
              color: "#000",
              font: tickFont,
              padding: 2,
              maxRotation: 0,
              autoSkip: false,
              callback: (v: any) => fmt(v),
            },
          },
          y: {
            type: "linear",
            min: 0,
            max: 200,
            afterBuildTicks: (s: any) => {
              s.ticks = diameterTicks.map((v) => ({ value: v }));
            },
            afterFit: (s: any) => {
              s.width = area.left;
            },
            grid: { display: false },
            border: { display: false },
            ticks: {
              color: "#000",
              font: tickFont,
              padding: 7,
              autoSkip: false,
              callback: (v: any) => fmt(v),
            },
          },
        },
      },
      plugins: [axesDecor],
    });
    return () => chart.destroy();
  }, [panel]);

  return (
    <canvas
      ref={ref}
      width={panel.box.width}
      height={panel.box.height}
      style={{ position: "absolute", left: panel.box.left, top: panel.box.top }}
    />
  );
}

export default function App() {
  return (
    <div
      style={{
        position: "absolute",
        left: 0,
        top: 0,
        width: 987,
        height: 729,
        background: "#fff",
        overflow: "hidden",
      }}
    >
      <div
        style={{
          position: "absolute",
          left: 7,
          top: 13,
          width: 990,
          height: 730,
          borderTop: "2px solid #8c8c8c",
          borderLeft: "2px solid #8c8c8c",
          boxSizing: "border-box",
        }}
      />
      {panels.map((p) => (
        <ScatterPanel key={p.id} panel={p} />
      ))}
    </div>
  );
}
